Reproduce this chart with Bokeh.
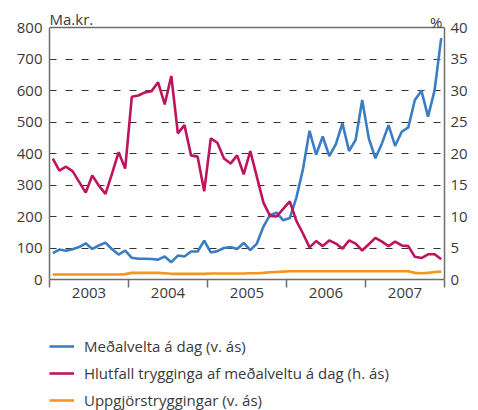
from bokeh.plotting import figure
from bokeh.models import Range1d, LinearAxis, FixedTicker, Legend, LegendItem, Label, Span
from bokeh.layouts import column
from bokeh.embed import file_html
from bokeh.resources import INLINE

# ---- data (monthly, 2003-01 .. 2007-12) ----
years = [2003, 2004, 2005, 2006, 2007]
year_labels = ["2003", "2004", "2005", "2006", "2007"]

# Meðalvelta á dag (left axis, Ma.kr.)
medalvelta = [
    84, 95, 91, 96, 103, 115, 97, 108, 117, 96, 79, 92,
    69, 66, 66, 65, 63, 73, 55, 76, 73, 89, 89, 123,
    86, 90, 100, 103, 97, 116, 93, 114, 168, 205, 212, 188,
    195, 260, 350, 472, 396, 454, 392, 430, 496, 408, 443, 570,
    448, 385, 432, 490, 424, 469, 483, 570, 599, 517, 601, 766,
]

# Hlutfall trygginga af meðalveltu á dag (right axis, %)
hlutfall = [
    19.2, 17.3, 17.9, 17.2, 15.5, 13.8, 16.5, 14.9, 13.6, 16.8, 20.2, 17.6,
    29.0, 29.2, 29.7, 29.9, 31.3, 27.8, 32.3, 23.2, 24.5, 19.7, 19.5, 14.0,
    22.4, 21.7, 19.2, 18.4, 19.7, 16.7, 20.4, 16.3, 12.2, 10.1, 10.0, 11.2,
    12.4, 9.3, 7.3, 5.1, 6.1, 5.3, 6.2, 5.7, 4.9, 6.2, 5.7, 4.6,
    5.6, 6.6, 6.0, 5.3, 6.0, 5.4, 5.3, 3.6, 3.4, 4.0, 4.0, 3.2,
]

# Uppgjörstryggingar (left axis, Ma.kr.)
uppgjor = [
    16, 16, 16, 16, 16, 16, 16, 16, 16, 16, 16, 17,
    21, 21, 21, 21, 21, 20, 18, 18, 18, 18, 18, 18,
    19, 19, 19, 19, 19, 19, 20, 20, 21, 23, 24, 25,
    26, 26, 26, 26, 26, 26, 26, 26, 26, 26, 26, 26,
    26, 26, 26, 26, 26, 26, 26, 21, 20, 21, 24, 25,
]

left_ticks = [0, 100, 200, 300, 400, 500, 600, 700, 800]
right_ticks = [0, 5, 10, 15, 20, 25, 30, 35, 40]
LEFT_MAX = 800
RIGHT_MAX = 40

# x position: middle of each month, in decimal years
x = [y + (m + 0.5) / 12 for y in years for m in range(12)]

BLUE = "#3A7DC5"
RED = "#C0135E"
ORANGE = "#F7941D"
AXIS = "#6d6d6d"
TEXT = "#3a3a3a"
FONT = "Open Sans"

W = 478
FRAME_TOP_PAD = 27      # space above the 800 line (for unit labels)
FRAME_H = 252           # 0..800 height in px
MAIN_H = 314
LEG_H = 410 - MAIN_H

# extend the y ranges upward so unit labels fit inside the frame
ext = (FRAME_H + FRAME_TOP_PAD) / FRAME_H
p = figure(width=W, height=MAIN_H,
           x_range=Range1d(2003, 2008), y_range=Range1d(0, LEFT_MAX * ext),
           output_backend="svg", toolbar_location=None,
           min_border_left=49, min_border_right=34,
           min_border_top=0, min_border_bottom=MAIN_H - FRAME_H - FRAME_TOP_PAD)
p.extra_y_ranges = {"pct": Range1d(0, RIGHT_MAX * ext)}
p.background_fill_color = None
p.border_fill_color = "white"
p.outline_line_color = None

# x axis: year boundaries as (minor) ticks, labels centred in the year
p.xaxis.ticker = FixedTicker(ticks=[y + 0.5 for y in years],
                             minor_ticks=years + [years[-1] + 1])
p.xaxis.major_label_overrides = {y + 0.5: lab for y, lab in zip(years, year_labels)}
p.xaxis.major_tick_line_color = None
p.xaxis.major_tick_out = 0
p.xaxis.major_tick_in = 0
p.xaxis.minor_tick_line_color = AXIS
p.xaxis.minor_tick_line_width = 1.5
p.xaxis.minor_tick_out = 8
p.xaxis.minor_tick_in = 0
p.xaxis.axis_line_color = AXIS
p.xaxis.axis_line_width = 1.5
p.xaxis.major_label_standoff = 0
p.xaxis.major_label_text_font = FONT
p.xaxis.major_label_text_font_size = "15px"
p.xaxis.major_label_text_color = TEXT

# left axis
p.yaxis.ticker = FixedTicker(ticks=left_ticks)
p.yaxis.bounds = (0, LEFT_MAX)
p.yaxis.major_tick_line_color = None
p.yaxis.minor_tick_line_color = None
p.yaxis.major_tick_out = 0
p.yaxis.major_tick_in = 0
p.yaxis.axis_line_color = AXIS
p.yaxis.axis_line_width = 1.5
p.yaxis.major_label_standoff = 7
p.yaxis.major_label_text_font = FONT
p.yaxis.major_label_text_font_size = "15px"
p.yaxis.major_label_text_color = TEXT

# right axis
ax_r = LinearAxis(y_range_name="pct", ticker=FixedTicker(ticks=right_ticks),
                  bounds=(0, RIGHT_MAX))
ax_r.major_tick_line_color = None
ax_r.minor_tick_line_color = None
ax_r.major_tick_out = 0
ax_r.major_tick_in = 0
ax_r.axis_line_color = AXIS
ax_r.axis_line_width = 1.5
ax_r.major_label_standoff = 6
ax_r.major_label_text_font = FONT
ax_r.major_label_text_font_size = "15px"
ax_r.major_label_text_color = TEXT
p.add_layout(ax_r, "right")

# grid
p.xgrid.visible = False
p.ygrid.ticker = FixedTicker(ticks=left_ticks[1:-1])
p.ygrid.grid_line_color = "#333333"
p.ygrid.grid_line_dash = "7 9"
p.ygrid.grid_line_width = 1.2

# top border of the plot box
p.add_layout(Span(location=LEFT_MAX, dimension="width", line_color=AXIS, line_width=1.5))

# series
r_blue = p.line(x, medalvelta, line_color=BLUE, line_width=2.6)
r_red = p.line(x, hlutfall, line_color=RED, line_width=2.6, y_range_name="pct")
r_orange = p.line(x, uppgjor, line_color=ORANGE, line_width=2.6)

# unit labels
p.add_layout(Label(x=2003, y=LEFT_MAX, text="Ma.kr.", text_align="left",
                   text_baseline="alphabetic", y_offset=9, x_offset=0,
                   text_font=FONT, text_font_size="15px", text_color=TEXT))
p.add_layout(Label(x=2008, y=LEFT_MAX, text="%", text_align="right",
                   text_baseline="alphabetic", y_offset=6, x_offset=-2,
                   text_font=FONT, text_font_size="15px", text_color=TEXT))

# ---- legend panel (a strip below the chart; its lines fall outside its ranges) ----
q = figure(width=W, height=LEG_H, x_range=Range1d(0, 1), y_range=Range1d(0, 1),
           x_axis_type=None, y_axis_type=None,
           output_backend="svg", toolbar_location=None, min_border=0)
q.outline_line_color = None
q.grid.visible = False
q.background_fill_color = None
q.border_fill_color = "white"
l_blue = q.line(x, medalvelta, line_color=BLUE, line_width=2.6)
l_red = q.line(x, hlutfall, line_color=RED, line_width=2.6)
l_orange = q.line(x, uppgjor, line_color=ORANGE, line_width=2.6)

legend = Legend(items=[
    LegendItem(label="Meðalvelta á dag (v. ás)", renderers=[l_blue]),
    LegendItem(label="Hlutfall trygginga af meðalveltu á dag (h. ás)", renderers=[l_red]),
    LegendItem(label="Uppgjörstryggingar (v. ás)", renderers=[l_orange]),
], location=(0, 0), orientation="vertical")
legend.padding = 0
legend.margin = 0
legend.spacing = 7
legend.border_line_color = None
legend.background_fill_color = None
legend.glyph_width = 25
legend.glyph_height = 20
legend.label_height = 20
legend.label_standoff = 10
legend.label_text_font = FONT
legend.label_text_font_size = "15px"
legend.label_text_color = TEXT
q.add_layout(legend, "center")

layout = column(p, q, spacing=0)
open("out.html", "w").write(file_html(layout, INLINE))
